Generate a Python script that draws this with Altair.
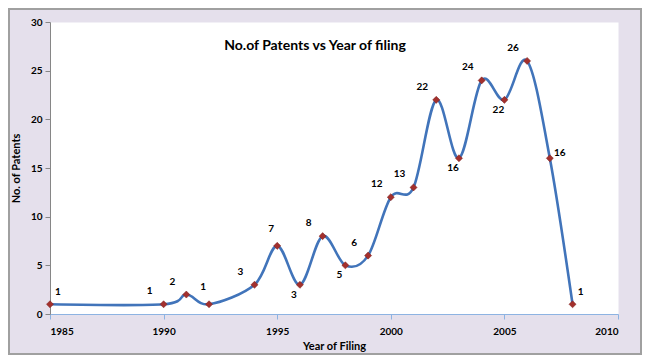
import altair as alt
import pandas as pd

years = [1985, 1990, 1991, 1992, 1994, 1995, 1996, 1997, 1998, 1999,
         2000, 2001, 2002, 2003, 2004, 2005, 2006, 2007, 2008]
patents = [1, 1, 2, 1, 3, 7, 3, 8, 5, 6, 12, 13, 22, 16, 24, 22, 26, 16, 1]
# data-label placement category (Excel-style label positions)
label_pos = ["r", "ul", "ul", "u", "ul", "u", "b", "ul", "b", "ul",
             "ul", "ul", "ul", "b", "ul", "b", "ul", "rr", "r"]

x_ticks = [1985, 1990, 1995, 2000, 2005, 2010]
y_ticks = [0, 5, 10, 15, 20, 25, 30]
chart_title = ["No.of Patents vs Year of filing"]

df = pd.DataFrame({"year": years, "patents": patents, "pos": label_pos})
title_df = pd.DataFrame({"t": chart_title})

FONT = "Lato"
W, H = 568, 292

x = alt.X("year:Q", scale=alt.Scale(domain=[1985, 2010], nice=False, zero=False),
          axis=alt.Axis(values=x_ticks, format="d", title="Year of Filing",
                        domainColor="#8DB3E2", tickColor="#8DB3E2", tickSize=5,
                        labelPadding=7, titlePadding=4, grid=False))
y = alt.Y("patents:Q", scale=alt.Scale(domain=[0, 30], nice=False),
          axis=alt.Axis(values=y_ticks, title="No. of  Patents",
                        domainColor="#868686", tickColor="#868686", tickSize=5,
                        labelPadding=3, titlePadding=9, grid=False))

base = alt.Chart(df)

frame = alt.Chart(title_df).mark_rect(fill="transparent", stroke="#a0a0a0", strokeWidth=2).encode(
    x=alt.value(-41), x2=alt.value(W + 23), y=alt.value(-13), y2=alt.value(H + 40)
)

line = base.mark_line(interpolate="cardinal", tension=0, color="#4174BA",
                      strokeWidth=2.6).encode(x=x, y=y)

points = base.mark_point(shape="diamond", filled=True, size=50, color="#A3302D",
                         opacity=1, stroke="#7a1f1d", strokeWidth=0.5).encode(x=x, y=y)

offsets = {"ul": (-14, -13), "u": (-6, -17), "b": (-6, 10), "r": (8, -12), "rr": (10, -5)}
labels = []
for key, (dx, dy) in offsets.items():
    labels.append(
        base.transform_filter(alt.datum.pos == key).mark_text(
            font=FONT, fontSize=10, fontWeight="bold", color="black",
            dx=dx, dy=dy, align="center", baseline="middle"
        ).encode(x=x, y=y, text="patents:Q")
    )

title = alt.Chart(title_df).mark_text(font=FONT, fontSize=14,
                       fontWeight="bold", color="black", align="center",
                       baseline="middle").encode(text="t:N", x=alt.value(265), y=alt.value(24))

chart = alt.layer(frame, line, points, *labels, title).properties(
    width=W, height=H,
    background="#E5E0EC",
    padding={"left": 42, "top": 14, "right": 24, "bottom": 41},
    autosize=alt.AutoSizeParams(type="none"),
).configure_view(fill="white", stroke="transparent").configure_axis(
    labelFont=FONT, labelFontSize=10, labelFontWeight="bold", labelColor="black",
    titleFont=FONT, titleFontSize=11, titleFontWeight="bold", titleColor="black",
)

chart.save("out.html", embed_options={"renderer": "svg", "actions": False})
